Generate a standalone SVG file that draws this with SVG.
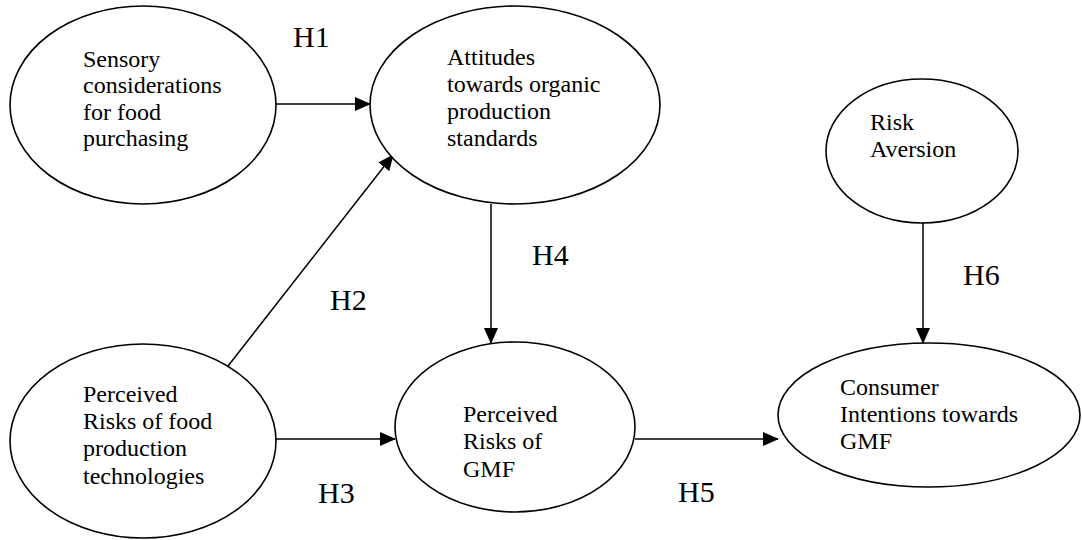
<svg xmlns="http://www.w3.org/2000/svg" width="1082" height="540" viewBox="0 0 1082 540">
<style>
.node ellipse{fill:#fff;stroke:#000;stroke-width:1.6}
text{font-family:'Liberation Serif','Times New Roman','DejaVu Serif',serif;fill:#000}
.node text{font-size:24px}
.lbl{font-size:30px}
.conn line{stroke:#000;stroke-width:1.5;fill:none}
</style>
<defs>
<marker id="ah" markerUnits="userSpaceOnUse" markerWidth="16" markerHeight="14" viewBox="0 0 16 14" refX="15" refY="7" orient="auto">
<path d="M0,0 L16,7 L0,14 Z" fill="#000"/>
</marker>
</defs>
<rect width="1082" height="540" fill="#fff"/>
<g class="conn">
<line x1="276" y1="104" x2="370" y2="104" marker-end="url(#ah)"/>
<line x1="228" y1="366" x2="393" y2="155" marker-end="url(#ah)"/>
<line x1="276" y1="439" x2="395" y2="439" marker-end="url(#ah)"/>
<line x1="491" y1="204" x2="491" y2="343" marker-end="url(#ah)"/>
<line x1="635" y1="439" x2="778" y2="439" marker-end="url(#ah)"/>
<line x1="923" y1="223" x2="923" y2="343" marker-end="url(#ah)"/>
</g>
<g id="n-sensory" class="node" font-family="Liberation Serif, serif">
<ellipse cx="143" cy="105" rx="133" ry="99"/>
<text x="83" y="67">Sensory</text>
<text x="83" y="93">considerations</text>
<text x="83" y="120">for food</text>
<text x="83" y="146">purchasing</text>
</g>
<g id="n-attitudes" class="node">
<ellipse cx="515" cy="105" rx="145" ry="99"/>
<text x="447" y="65">Attitudes</text>
<text x="447" y="92">towards organic</text>
<text x="447" y="119">production</text>
<text x="447" y="146">standards</text>
</g>
<g id="n-risk-aversion" class="node">
<ellipse cx="922" cy="151" rx="96" ry="72"/>
<text x="870" y="130">Risk</text>
<text x="870" y="157">Aversion</text>
</g>
<g id="n-perceived-tech" class="node">
<ellipse cx="143" cy="441" rx="133" ry="97"/>
<text x="83" y="402">Perceived</text>
<text x="83" y="429">Risks of food</text>
<text x="83" y="456">production</text>
<text x="83" y="484">technologies</text>
</g>
<g id="n-perceived-gmf" class="node">
<ellipse cx="515" cy="427" rx="120" ry="85"/>
<text x="463" y="422">Perceived</text>
<text x="463" y="449">Risks of</text>
<text x="463" y="477">GMF</text>
</g>
<g id="n-intentions" class="node">
<ellipse cx="929" cy="415" rx="151" ry="72"/>
<text x="840" y="395">Consumer</text>
<text x="840" y="422">Intentions towards</text>
<text x="840" y="449">GMF</text>
</g>
<g id="labels">
<text class="lbl" x="293" y="47">H1</text>
<text class="lbl" x="330" y="310">H2</text>
<text class="lbl" x="318" y="503">H3</text>
<text class="lbl" x="532" y="265">H4</text>
<text class="lbl" x="678" y="502">H5</text>
<text class="lbl" x="963" y="285">H6</text>
</g>
</svg>
